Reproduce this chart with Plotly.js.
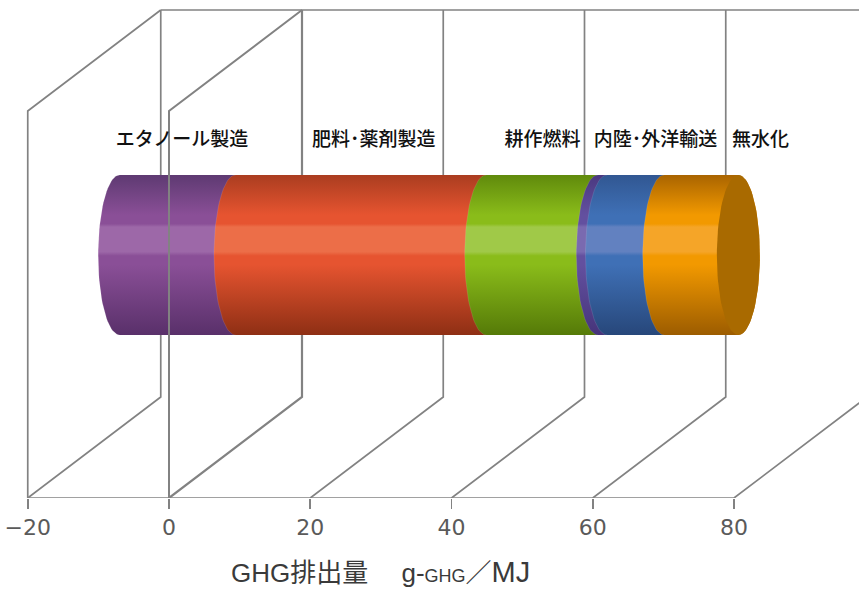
<!DOCTYPE html>
<html>
<head>
<meta charset="utf-8">
<script src="https://cdn.plot.ly/plotly-3.0.1.min.js"></script>
<style>html,body{margin:0;padding:0;background:#fff;overflow:hidden}</style>
</head>
<body>
<div id="chart" style="width:859px;height:589px"></div>
<script>
// Life-cycle GHG emissions, g-GHG per MJ, stacked along one cylinder
const stages = ['エタノール製造', '肥料･薬剤製造', '耕作燃料', '内陸･外洋輸送', '無水化'];
const stageValues = [-16.4, 35.5, 15.8, 1.3, 8.1, 10.5];
const tickValues = [-20, 0, 20, 40, 60, 80];

// Per-segment shading: edge, body, highlight, lower edge
const shades = [
  ['#5e3a72', '#8a4f97', '#9d68a8', '#59306a'],
  ['#aa3d20', '#e65430', '#ec6e48', '#8e2f14'],
  ['#608a0c', '#8abc1a', '#a0c948', '#557a08'],
  ['#4a3880', '#63509f', '#7a6ab0', '#46347a'],
  ['#315792', '#3f70b6', '#6281c0', '#27477a'],
  ['#a96400', '#f29900', '#f5a528', '#9c5c00']
];

// Oblique projection of the chart box, in plot pixels
const unitPx = 7.0625;
const depthX = 133 / unitPx, depthY = 101;
const wallH = 387, backTop = 488;
const cylBottom = 163, cylTop = 323, cylMid = 243;
const midOffset = depthX / 2, capRx = 21.5 / unitPx, capRy = 80;
const LINE = '#828282';

function gridLine(x, y, w) {
  return {x, y, mode: 'lines', hoverinfo: 'skip', showlegend: false,
          line: {color: LINE, width: w, simplify: false}};
}

// Half ellipse around a stack position; side -1 bulges left, +1 bulges right
function arc(cx, side) {
  const xs = [], ys = [];
  for (let i = 0; i <= 48; i++) {
    const t = Math.PI * i / 48;
    xs.push(cx + side * capRx * Math.sin(t));
    ys.push(cylMid + capRy * Math.cos(t));
  }
  return {xs, ys};
}

const traces = [];

// Floor diagonals and back verticals
tickValues.forEach((v, i) => {
  const xs = [v, v + depthX, v + depthX];
  const ys = [0, depthY, backTop];
  traces.push(gridLine(xs, ys, i === 1 ? 2.2 : 1.7));
});
// Side wall at -20 climbing to the back top edge
traces.push(gridLine([-20, -20, -20 + depthX], [0, wallH, backTop], 1.7));
// Back top edge and front baseline
traces.push(gridLine([-20 + depthX, 100], [backTop, backTop], 1.7));
traces.push(gridLine([-20, 80], [0, 0], 1.7));

// Segment boundaries: the negative stage runs up to zero, the rest stack from zero
const bounds = [stageValues[0], 0];
stageValues.slice(1).forEach(v => bounds.push(bounds[bounds.length - 1] + v));

// Cylinder segments, left to right so each one overlaps the previous end
shades.forEach((c, i) => {
  const a = bounds[i] + midOffset, b = bounds[i + 1] + midOffset;
  const left = arc(a, -1), right = arc(b, 1);
  traces.push({
    x: left.xs.concat(right.xs.slice().reverse()),
    y: left.ys.concat(right.ys.slice().reverse()),
    mode: 'lines', fill: 'toself', hoverinfo: 'skip', showlegend: false,
    line: {width: 0},
    fillgradient: {
      type: 'vertical', start: cylBottom, stop: cylTop,
      colorscale: [[0, c[3]], [0.44, c[1]], [0.495, c[1]], [0.52, c[2]],
                   [0.675, c[2]], [0.695, c[1]], [0.75, c[1]], [1, c[0]]]
    }
  });
  // Pale rim along the rounded edge of the segment
  traces.push({
    x: left.xs, y: left.ys, mode: 'lines', hoverinfo: 'skip', showlegend: false,
    line: {color: 'rgba(255,255,255,0.1)', width: 1}
  });
});

// End cap
const endX = bounds[bounds.length - 1] + midOffset;
const capL = arc(endX, -1), capR = arc(endX, 1);
traces.push({
  x: capL.xs.concat(capR.xs.slice().reverse()),
  y: capL.ys.concat(capR.ys.slice().reverse()),
  mode: 'lines', fill: 'toself', fillcolor: '#a96a00',
  line: {width: 0}, hoverinfo: 'skip', showlegend: false
});

// The zero wall's front edge reads over the cylinder
traces.push(gridLine([0, 0, depthX], [0, wallH, backTop], 2));

// Stage labels above the cylinder
const labelX = [1.84, 29.0, 52.9, 68.9, 83.75];
traces.push({
  x: labelX, y: Array(stages.length).fill(356.5), text: stages,
  mode: 'text', textposition: 'middle center', hoverinfo: 'skip', showlegend: false,
  textfont: {family: '"Noto Sans CJK JP"', size: 19, color: '#111', weight: 500},
  cliponaxis: false
});

const layout = {
  width: 859, height: 589, autosize: false,
  margin: {l: 0, r: 0, t: 0, b: 91, pad: 0},
  paper_bgcolor: '#fff', plot_bgcolor: '#fff', showlegend: false,
  xaxis: {
    range: [-169 / unitPx, 690 / unitPx], tickmode: 'array', tickvals: tickValues,
    showgrid: false, zeroline: false, showline: false,
    ticks: 'outside', ticklen: 10, tickcolor: LINE, tickwidth: 1.7,
    ticklabelstandoff: 0,
    tickfont: {family: '"DejaVu Sans"', size: 22, color: '#5a5a5a'}
  },
  yaxis: {range: [0, 498], visible: false, fixedrange: true},
  annotations: [{
    xref: 'paper', yref: 'paper', x: 380 / 859, y: -74 / 498, xanchor: 'center', yanchor: 'middle',
    showarrow: false,
    font: {family: '"Liberation Sans", "Noto Sans CJK JP"', size: 26, color: '#3a3a3a'},
    text: 'GHG排出量　 g-<span style="font-size:18px">GHG</span>／<span style="font-size:29px">MJ</span>'
  }]
};

Plotly.newPlot('chart', traces, layout, {staticPlot: true, displayModeBar: false});
</script>
</body>
</html>
